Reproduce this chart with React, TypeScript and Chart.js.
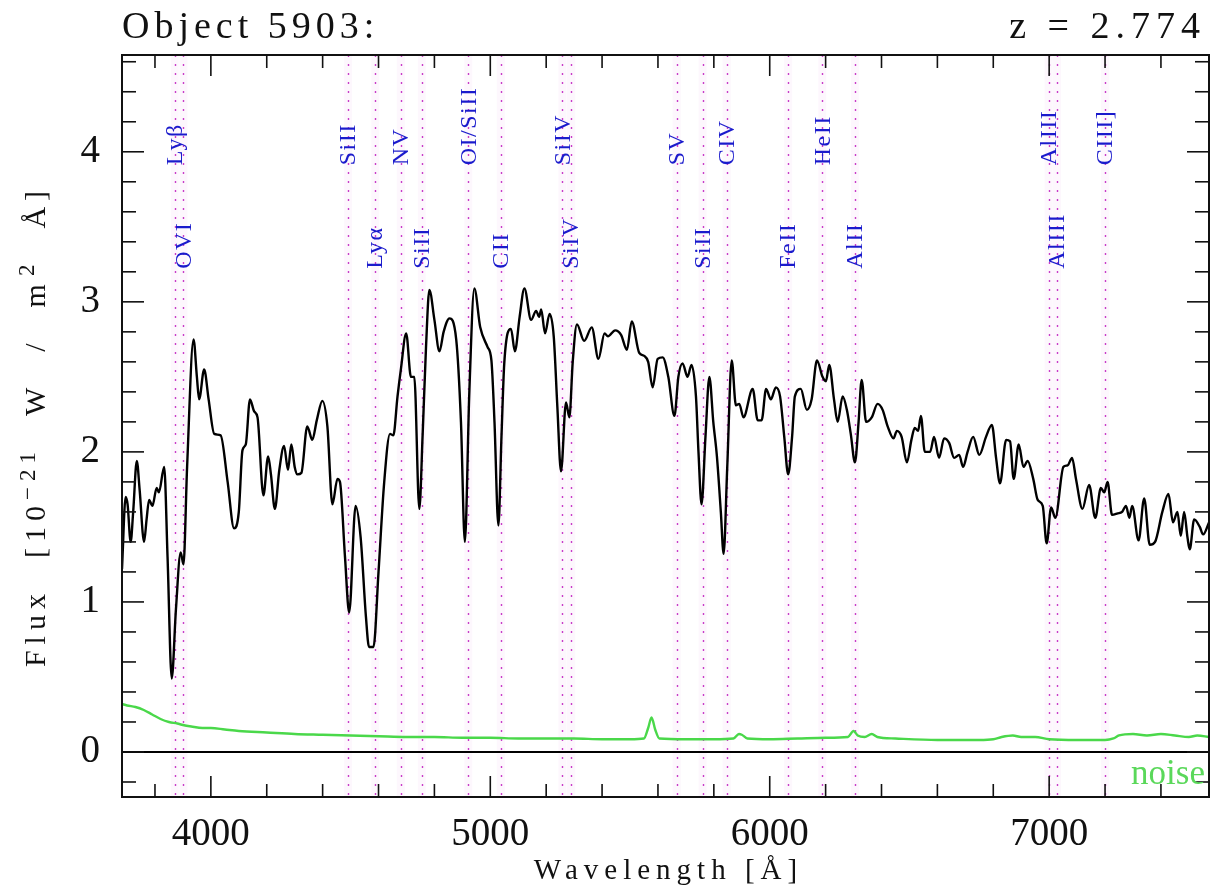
import React, { useEffect, useRef } from "react";
import { Chart, registerables } from "chart.js";

Chart.register(...registerables);

// ---------- data ----------
const WAVELENGTH = [
  3682, 3695, 3702, 3713, 3722, 3735, 3745, 3761, 3770, 3779, 3791, 3806, 3814, 3833, 3845, 3860, 3875, 3892, 3902, 3915,
  3938, 3950, 3958, 3976, 3992, 4012, 4035, 4060, 4083, 4100, 4113, 4125, 4140, 4155, 4167, 4188, 4205, 4215, 4229, 4245,
  4262, 4276, 4288, 4300, 4310, 4324, 4345, 4363, 4379, 4399, 4417, 4435, 4453, 4462, 4480, 4495, 4518, 4536, 4555, 4566,
  4582, 4600, 4620, 4641, 4653, 4668, 4680, 4699, 4716, 4728, 4746, 4758, 4770, 4782, 4800, 4818, 4833, 4854, 4878, 4895,
  4909, 4925, 4943, 4964, 4990, 5004, 5015, 5029, 5040, 5050, 5074, 5088, 5105, 5122, 5146, 5164, 5175, 5182, 5196, 5212,
  5227, 5240, 5253, 5271, 5283, 5295, 5310, 5336, 5363, 5387, 5409, 5421, 5447, 5468, 5489, 5506, 5533, 5551, 5565, 5581,
  5599, 5617, 5637, 5659, 5673, 5688, 5706, 5720, 5736, 5745, 5756, 5770, 5784, 5798, 5811, 5825, 5835, 5848, 5864, 5879,
  5891, 5906, 5939, 5957, 5971, 5987, 6004, 6022, 6037, 6052, 6066, 6080, 6090, 6111, 6133, 6150, 6169, 6189, 6201, 6213,
  6230, 6243, 6261, 6276, 6290, 6305, 6318, 6329, 6345, 6365, 6386, 6404, 6422, 6443, 6455, 6472, 6491, 6507, 6519, 6531,
  6541, 6555, 6574, 6588, 6606, 6624, 6642, 6660, 6678, 6692, 6708, 6728, 6750, 6774, 6795, 6810, 6824, 6846, 6860, 6873,
  6891, 6908, 6923, 6943, 6959, 6977, 6991, 7007, 7022, 7051, 7066, 7082, 7096, 7119, 7143, 7165, 7185, 7197, 7209, 7225,
  7245, 7261, 7275, 7287, 7297, 7320, 7340, 7360, 7379, 7405, 7427, 7443, 7459, 7471, 7483, 7495, 7503, 7519, 7539, 7551,
  7572,
];
const FLUX = [
  1.22, 1.70, 1.65, 1.40, 1.60, 1.94, 1.75, 1.40, 1.55, 1.68, 1.64, 1.76, 1.73, 1.90, 1.30, 0.49, 0.95, 1.33, 1.25, 1.90,
  2.75, 2.50, 2.35, 2.55, 2.35, 2.12, 2.11, 1.80, 1.49, 1.60, 2.01, 2.05, 2.35, 2.27, 2.23, 1.71, 1.97, 1.85, 1.62, 1.88,
  2.04, 1.88, 2.05, 1.90, 1.85, 1.86, 2.17, 2.08, 2.21, 2.34, 2.17, 1.65, 1.82, 1.80, 1.30, 0.93, 1.64, 1.43, 0.90, 0.70,
  0.70, 1.20, 1.79, 2.12, 2.11, 2.37, 2.55, 2.79, 2.50, 2.50, 1.62, 2.12, 2.70, 3.08, 2.88, 2.67, 2.80, 2.89, 2.75, 2.20,
  1.40, 2.40, 3.09, 2.83, 2.70, 2.61, 2.20, 1.51, 2.10, 2.59, 2.82, 2.67, 2.90, 3.09, 2.88, 2.94, 2.90, 2.95, 2.79, 2.92,
  2.77, 2.30, 1.87, 2.33, 2.23, 2.60, 2.85, 2.74, 2.83, 2.62, 2.79, 2.77, 2.81, 2.78, 2.68, 2.87, 2.66, 2.64, 2.60, 2.43,
  2.62, 2.63, 2.50, 2.24, 2.50, 2.59, 2.50, 2.58, 2.37, 2.00, 1.65, 2.10, 2.50, 2.20, 1.97, 1.60, 1.32, 1.90, 2.61, 2.31,
  2.32, 2.23, 2.42, 2.21, 2.21, 2.42, 2.35, 2.43, 2.37, 2.10, 1.85, 2.10, 2.37, 2.42, 2.28, 2.35, 2.61, 2.50, 2.47, 2.58,
  2.35, 2.20, 2.37, 2.28, 2.12, 1.93, 2.20, 2.48, 2.20, 2.23, 2.32, 2.28, 2.17, 2.09, 2.14, 2.10, 1.93, 2.08, 2.16, 2.14,
  2.24, 2.00, 2.00, 2.10, 1.96, 2.09, 2.06, 1.96, 1.98, 1.90, 2.00, 2.10, 1.98, 2.10, 2.18, 1.96, 1.79, 2.08, 2.07, 1.82,
  2.05, 1.90, 1.94, 1.82, 1.68, 1.64, 1.39, 1.63, 1.56, 1.90, 1.91, 1.96, 1.82, 1.62, 1.78, 1.56, 1.76, 1.73, 1.80, 1.58,
  1.59, 1.60, 1.64, 1.56, 1.64, 1.41, 1.69, 1.38, 1.40, 1.60, 1.72, 1.53, 1.60, 1.44, 1.60, 1.43, 1.35, 1.55, 1.50, 1.45,
  1.53,
];
const NOISE_WAVELENGTH = [
  3682, 3700, 3730, 3760, 3790, 3820, 3850, 3880, 3900, 3930, 3970, 4000, 4050, 4100, 4200, 4300, 4400, 4500, 4600, 4700,
  4800, 4900, 5000, 5100, 5200, 5300, 5400, 5500, 5550, 5565, 5577, 5590, 5605, 5700, 5800, 5870, 5890, 5900, 5920, 6000,
  6100, 6200, 6280, 6300, 6315, 6340, 6365, 6385, 6450, 6600, 6750, 6800, 6830, 6870, 6900, 6950, 7000, 7100, 7200, 7230,
  7250, 7300, 7350, 7400, 7450, 7500, 7530, 7572,
];
const NOISE = [
  0.32, 0.31, 0.30, 0.28, 0.25, 0.22, 0.20, 0.19, 0.18, 0.17, 0.16, 0.16, 0.15, 0.14, 0.13, 0.12, 0.115, 0.11, 0.105, 0.10,
  0.10, 0.095, 0.095, 0.09, 0.09, 0.09, 0.085, 0.085, 0.09, 0.16, 0.23, 0.15, 0.09, 0.085, 0.085, 0.09, 0.12, 0.115, 0.09, 0.085,
  0.09, 0.095, 0.10, 0.14, 0.11, 0.10, 0.12, 0.10, 0.09, 0.08, 0.08, 0.085, 0.10, 0.11, 0.10, 0.10, 0.085, 0.08, 0.08, 0.09,
  0.11, 0.12, 0.11, 0.12, 0.11, 0.10, 0.11, 0.10,
];
const X_TICKS = [4000, 5000, 6000, 7000];
const Y_TICKS = [0, 1, 2, 3, 4];
const UPPER_LABELS = ["Lyβ", "SiII", "NV", "OI/SiII", "SiIV", "SV", "CIV", "HeII", "AlIII", "CIII]"];
const UPPER_WAVES = [3871, 4491, 4680, 4921, 5258, 5667, 5846, 6188, 6998, 7200];
const LOWER_LABELS = ["OVI", "Lyα", "SiII", "CII", "SiIV", "SiII", "FeII", "AlII", "AlIII"];
const LOWER_WAVES = [3902, 4588, 4755, 5038, 5289, 5760, 6066, 6305, 7028];
const TITLE_LEFT = "Object 5903:";
const TITLE_RIGHT = "z = 2.774";
const X_TITLE = "Wavelength [Å]";
const NOISE_LABEL = "noise";

const SERIF = '"Liberation Serif", "DejaVu Serif", serif';

function line(ctx: CanvasRenderingContext2D, x1: number, y1: number, x2: number, y2: number) {
  ctx.beginPath();
  ctx.moveTo(x1, y1);
  ctx.lineTo(x2, y2);
  ctx.stroke();
}

const spectrumPlugin = {
  id: "spectrumDecor",
  beforeDatasetsDraw(chart: any) {
    const { ctx, chartArea: a, scales } = chart;
    const x = scales.x;
    const y = scales.y;
    const all = [...UPPER_WAVES, ...LOWER_WAVES];
    ctx.save();
    ctx.beginPath();
    ctx.rect(a.left, a.top, a.right - a.left, a.bottom - a.top);
    ctx.clip();
    ctx.fillStyle = "rgba(248, 220, 248, 0.22)";
    for (const w of all) {
      const px = x.getPixelForValue(w);
      ctx.fillRect(px - 4, a.top, 8, a.bottom - a.top);
    }
    ctx.strokeStyle = "#c83cc8";
    ctx.lineWidth = 1.4;
    ctx.setLineDash([2, 7]);
    for (const w of all) {
      const px = Math.round(x.getPixelForValue(w)) + 0.5;
      line(ctx, px, a.top, px, a.bottom);
    }
    ctx.setLineDash([]);
    const y0 = y.getPixelForValue(0);
    ctx.strokeStyle = "#000";
    ctx.lineWidth = 2;
    line(ctx, a.left, y0, a.right, y0);
    ctx.restore();
  },
  afterDatasetsDraw(chart: any) {
    const { ctx, chartArea: a, scales } = chart;
    const x = scales.x;
    const y = scales.y;
    ctx.save();
    // frame
    ctx.strokeStyle = "#111";
    ctx.lineWidth = 2;
    ctx.strokeRect(a.left, a.top, a.right - a.left, a.bottom - a.top);
    // inward ticks
    ctx.lineWidth = 1.6;
    for (let k = 19; k <= 37; k++) {
      const v = k * 200;
      const px = x.getPixelForValue(v);
      if (px <= a.left || px >= a.right) continue;
      const L = v % 1000 === 0 ? 21 : 13;
      line(ctx, px, a.bottom, px, a.bottom - L);
      line(ctx, px, a.top, px, a.top + L);
    }
    for (let k = -1; k <= 23; k++) {
      const py = y.getPixelForValue(k / 5);
      if (py <= a.top || py >= a.bottom) continue;
      const L = k % 5 === 0 ? 22 : 14;
      line(ctx, a.left, py, a.left + L, py);
      line(ctx, a.right, py, a.right - L, py);
    }
    // line labels
    ctx.fillStyle = "#1a1acc";
    ctx.font = `24px ${SERIF}`;
    (ctx as any).letterSpacing = "1.5px";
    ctx.textAlign = "left";
    ctx.textBaseline = "middle";
    const drawLabels = (labels: string[], waves: number[], yStart: number) => {
      const py = y.getPixelForValue(yStart);
      labels.forEach((lab, i) => {
        const px = x.getPixelForValue(waves[i]);
        ctx.save();
        ctx.translate(px + 1, py);
        ctx.rotate(-Math.PI / 2);
        ctx.fillText(lab, 0, 0);
        ctx.restore();
      });
    };
    drawLabels(UPPER_LABELS, UPPER_WAVES, 3.91);
    drawLabels(LOWER_LABELS, LOWER_WAVES, 3.22);
    // noise label
    (ctx as any).letterSpacing = "0px";
    ctx.fillStyle = "#5ad85a";
    ctx.font = `35px ${SERIF}`;
    ctx.textAlign = "right";
    ctx.textBaseline = "alphabetic";
    ctx.fillText(NOISE_LABEL, a.right - 4, a.bottom - 13);
    // header
    ctx.fillStyle = "#111";
    ctx.font = `38px ${SERIF}`;
    (ctx as any).letterSpacing = "5px";
    ctx.textAlign = "left";
    ctx.fillText(TITLE_LEFT, a.left, 38);
    (ctx as any).letterSpacing = "6px";
    ctx.textAlign = "right";
    ctx.fillText(TITLE_RIGHT, 1206, 38);
    // x title
    ctx.font = `29px ${SERIF}`;
    (ctx as any).letterSpacing = "6px";
    ctx.textAlign = "center";
    ctx.fillText(X_TITLE, (a.left + a.right) / 2 + 3, 879);
    // y title (rotated, with superscripts)
    const runs = [
      { t: "Flux", s: 30, dy: 0, gap: 30 },
      { t: "[10", s: 30, dy: 0, gap: 0 },
      { t: "−21", s: 23, dy: -10, gap: 30 },
      { t: "W", s: 30, dy: 0, gap: 30 },
      { t: "/", s: 30, dy: 0, gap: 30 },
      { t: "m", s: 30, dy: 0, gap: 2 },
      { t: "2", s: 23, dy: -11, gap: 30 },
      { t: "Å]", s: 30, dy: 0, gap: 0 },
    ];
    ctx.textAlign = "left";
    (ctx as any).letterSpacing = "6px";
    let total = 0;
    const widths = runs.map((r) => {
      ctx.font = `${r.s}px ${SERIF}`;
      const w = ctx.measureText(r.t).width;
      total += w + r.gap;
      return w;
    });
    ctx.save();
    ctx.translate(45, (a.top + a.bottom) / 2);
    ctx.rotate(-Math.PI / 2);
    let cx = -total / 2;
    runs.forEach((r, i) => {
      ctx.font = `${r.s}px ${SERIF}`;
      ctx.fillText(r.t, cx, r.dy);
      cx += widths[i] + r.gap;
    });
    ctx.restore();
    ctx.restore();
  },
};

export default function App() {
  const canvasRef = useRef<HTMLCanvasElement | null>(null);

  useEffect(() => {
    let chart: Chart | null = null;
    let cancelled = false;
    const build = () => {
      if (cancelled || !canvasRef.current) return;
      chart = new Chart(canvasRef.current, {
        type: "line",
        data: {
          datasets: [
            {
              label: "noise",
              data: NOISE_WAVELENGTH.map((w, i) => ({ x: w, y: NOISE[i] })),
              borderColor: "#4ad84a",
              borderWidth: 2.4,
              pointRadius: 0,
              cubicInterpolationMode: "monotone",
            },
            {
              label: "flux",
              data: WAVELENGTH.map((w, i) => ({ x: w, y: FLUX[i] })),
              borderColor: "#000",
              borderWidth: 2.4,
              pointRadius: 0,
              cubicInterpolationMode: "monotone",
            },
          ],
        },
        options: {
          responsive: false,
          animation: false,
          events: [],
          layout: { padding: { top: 55, right: 3, left: 0, bottom: 0 } },
          plugins: { legend: { display: false }, tooltip: { enabled: false }, title: { display: false } },
          scales: {
            x: {
              type: "linear",
              min: 3682,
              max: 7572,
              grid: { display: false, drawTicks: false },
              border: { display: false },
              afterBuildTicks: (s: any) => {
                s.ticks = X_TICKS.map((v) => ({ value: v }));
              },
              afterFit: (s: any) => {
                s.height = 93;
              },
              ticks: {
                autoSkip: false,
                maxRotation: 0,
                padding: 14,
                color: "#111",
                font: { family: SERIF, size: 39 },
                callback: (v: any) => String(v),
              },
            },
            y: {
              type: "linear",
              min: -0.3,
              max: 4.645,
              grid: { display: false, drawTicks: false },
              border: { display: false },
              afterBuildTicks: (s: any) => {
                s.ticks = Y_TICKS.map((v) => ({ value: v }));
              },
              afterFit: (s: any) => {
                s.width = 122;
              },
              ticks: {
                padding: 22,
                color: "#111",
                font: { family: SERIF, size: 39 },
                callback: (v: any) => String(v),
              },
            },
          },
        },
        plugins: [spectrumPlugin],
      } as any);
    };
    const fontsApi = (document as any).fonts;
    if (fontsApi && fontsApi.load) {
      Promise.all([
        fontsApi.load('39px "Liberation Serif"'),
        fontsApi.load('24px "Liberation Serif"'),
      ])
        .catch(() => null)
        .then(build);
    } else {
      build();
    }
    return () => {
      cancelled = true;
      if (chart) chart.destroy();
    };
  }, []);

  return (
    <div style={{ position: "fixed", left: 0, top: 0, width: 1212, height: 890, background: "#fff" }}>
      <canvas ref={canvasRef} width={1212} height={890} style={{ display: "block" }} />
    </div>
  );
}
